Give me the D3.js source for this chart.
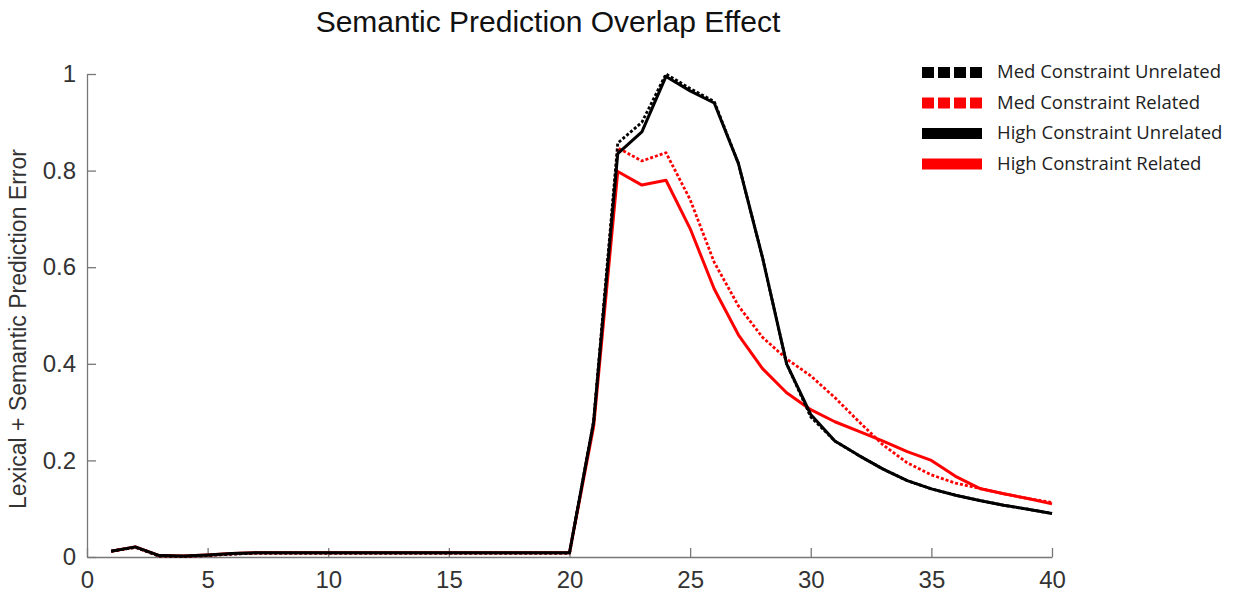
<!DOCTYPE html>
<html>
<head>
  <title>Semantic Prediction Overlap Effect</title>
  <style type="text/css">
    body { margin: 0; background: #fff; }
    svg text { font-family: "Liberation Sans", Arial, sans-serif; }
    .axis path, .axis line { stroke: #777; stroke-width: 1.3; }
    .axis text { font-size: 24px; fill: #333; }
    .legend text { font-family: "Open Sans", sans-serif; font-size: 18.5px; fill: #222; }
  </style>
</head>
<body>
  <div id="chart"></div>
  <script type="text/javascript" src="https://cdn.jsdelivr.net/npm/d3@7"></script>
  <script type="text/javascript">
    // x positions 1..40
    var steps = d3.range(1, 41);

    var medUnrelated = [0.012, 0.020, 0.002, 0.001, 0.003, 0.006, 0.008, 0.008, 0.008, 0.008,
      0.008, 0.008, 0.008, 0.008, 0.008, 0.008, 0.008, 0.008, 0.008, 0.008,
      0.28, 0.857, 0.90, 1.0, 0.97, 0.943, 0.815, 0.62, 0.40, 0.29,
      0.24, 0.21, 0.182, 0.158, 0.141, 0.128, 0.117, 0.107, 0.099, 0.09];
    var medRelated = [0.012, 0.020, 0.002, 0.001, 0.003, 0.006, 0.008, 0.008, 0.008, 0.008,
      0.008, 0.008, 0.008, 0.008, 0.008, 0.008, 0.008, 0.008, 0.008, 0.008,
      0.28, 0.847, 0.82, 0.837, 0.74, 0.61, 0.52, 0.455, 0.41, 0.375,
      0.33, 0.28, 0.232, 0.195, 0.17, 0.153, 0.142, 0.131, 0.121, 0.113];
    var highUnrelated = [0.012, 0.021, 0.003, 0.002, 0.004, 0.007, 0.009, 0.009, 0.009, 0.009,
      0.009, 0.009, 0.009, 0.009, 0.009, 0.009, 0.009, 0.009, 0.009, 0.009,
      0.28, 0.835, 0.88, 0.995, 0.965, 0.94, 0.815, 0.62, 0.40, 0.295,
      0.24, 0.21, 0.182, 0.158, 0.141, 0.128, 0.117, 0.107, 0.099, 0.09];
    var highRelated = [0.012, 0.021, 0.003, 0.002, 0.004, 0.007, 0.009, 0.009, 0.009, 0.009,
      0.009, 0.009, 0.009, 0.009, 0.009, 0.009, 0.009, 0.009, 0.009, 0.009,
      0.27, 0.798, 0.77, 0.78, 0.68, 0.555, 0.46, 0.39, 0.34, 0.305,
      0.28, 0.26, 0.24, 0.218, 0.2, 0.167, 0.142, 0.131, 0.121, 0.11];

    var xTicks = [0, 5, 10, 15, 20, 25, 30, 35, 40];
    var yTicks = [0, 0.2, 0.4, 0.6, 0.8, 1];

    var series = [
      { name: "Med Constraint Unrelated", values: medUnrelated, color: "#000", dashed: true },
      { name: "Med Constraint Related", values: medRelated, color: "#ff0000", dashed: true },
      { name: "High Constraint Unrelated", values: highUnrelated, color: "#000", dashed: false },
      { name: "High Constraint Related", values: highRelated, color: "#ff0000", dashed: false }
    ];

    var w = 1234, h = 596;
    var m = { left: 87, right: 1052, top: 74, bottom: 557 };

    var svg = d3.select("#chart").append("svg")
      .attr("width", w)
      .attr("height", h);

    var x = d3.scaleLinear().domain([0, 40]).range([m.left, m.right]);
    var y = d3.scaleLinear().domain([0, 1]).range([m.bottom, m.top]);

    svg.append("text")
      .attr("x", 548).attr("y", 32)
      .attr("text-anchor", "middle")
      .style("font-size", "30px")
      .style("fill", "#111")
      .text("Semantic Prediction Overlap Effect");

    svg.append("text")
      .attr("transform", "translate(26,329) rotate(-90)")
      .attr("text-anchor", "middle")
      .style("font-size", "23px")
      .style("fill", "#333")
      .text("Lexical + Semantic Prediction Error");

    var xAxis = svg.append("g").attr("class", "axis")
      .attr("transform", "translate(0," + m.bottom + ")")
      .call(d3.axisBottom(x).tickValues(xTicks).tickSizeInner(-9).tickSizeOuter(0).tickPadding(14));
    xAxis.selectAll("text").attr("dy", "0.71em");

    svg.append("g").attr("class", "axis")
      .attr("transform", "translate(" + m.left + ",0)")
      .call(d3.axisLeft(y).tickValues(yTicks).tickSizeInner(-9).tickSizeOuter(0).tickPadding(11)
        .tickFormat(function (d) { return d === 0 || d === 1 ? d : d3.format(".1f")(d); }));

    var line = d3.line()
      .x(function (d, i) { return x(steps[i]); })
      .y(function (d) { return y(d); });

    // draw in back-to-front order close to the reference
    var order = [3, 1, 2, 0];
    order.forEach(function (k) {
      var s = series[k];
      svg.append("path")
        .datum(s.values)
        .attr("fill", "none")
        .attr("stroke", s.color)
        .attr("stroke-width", s.dashed ? 2.8 : 3)
        .attr("stroke-dasharray", s.dashed ? "3,2" : null)
        .attr("stroke-linejoin", "round")
        .attr("d", line);
    });

    var legend = svg.append("g").attr("class", "legend")
      .attr("transform", "translate(922,72)");
    var items = legend.selectAll("g").data(series).enter().append("g")
      .attr("transform", function (d, i) { return "translate(0," + i * 30.5 + ")"; });
    items.each(function (d) {
      var g = d3.select(this);
      if (d.dashed) {
        g.selectAll("rect").data(d3.range(4)).enter().append("rect")
          .attr("x", function (j) { return j * 16; })
          .attr("y", -5).attr("width", 12).attr("height", 11)
          .attr("fill", d.color);
      } else {
        g.append("rect").attr("x", 0).attr("y", -5).attr("width", 60).attr("height", 11)
          .attr("fill", d.color);
      }
    });
    items.append("text")
      .attr("x", 75).attr("y", 0).attr("dy", "0.35em")
      .text(function (d) { return d.name; });
  </script>
</body>
</html>
